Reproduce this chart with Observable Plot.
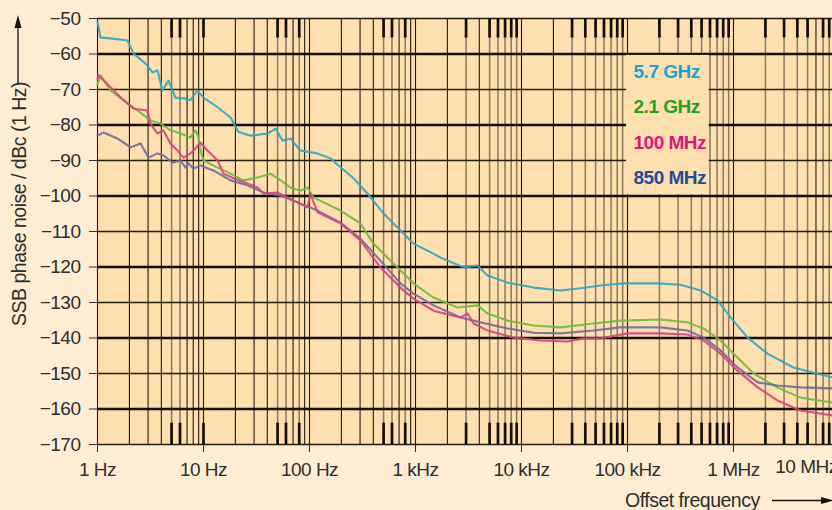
<!DOCTYPE html>
<html><head><meta charset="utf-8">
<script src="https://cdn.jsdelivr.net/npm/d3@7"></script>
<script src="https://cdn.jsdelivr.net/npm/@observablehq/plot@0.6"></script>
<style>
html,body{margin:0;padding:0;background:#feecd3;}
#chart svg{display:block;}
#chart svg text{letter-spacing:-0.5px;}
</style></head><body><div id="chart"></div>
<script>
// ---- axis ticks / labels ----
const decadeTicks = [1, 10, 100, 1e3, 1e4, 1e5, 1e6];
const decadeLabels = ["1 Hz", "10 Hz", "100 Hz", "1 kHz", "10 kHz", "100 kHz", "1 MHz"];
const extraTick = [1e7];
const extraLabel = ["10 MHz"];
const yTicks = [-50, -60, -70, -80, -90, -100, -110, -120, -130, -140, -150, -160, -170];
const thickLevels = [-60, -80, -100, -120, -140, -160];
const thinLevels = [-50, -70, -90, -110, -130, -150, -170];
const minorMultipliers = [1, 2, 3, 4, 5, 6, 7, 8, 9];
const stubFreqs = [5, 6, 10, 50, 60, 80, 500, 600, 800,
  3e3, 5e3, 6e3, 7e3, 8e3, 9e3,
  3e4, 4e4, 5e4, 6e4, 7e4, 8e4, 9e4,
  2e5, 3e5, 4e5, 5e5, 6e5, 7e5, 8e5, 9e5,
  2e6, 3e6, 4e6, 5e6, 7e6, 8e6];

// ---- series ----
const seriesNames = ["5.7 GHz", "2.1 GHz", "100 MHz", "850 MHz"];

const freq57 = [1, 1.07, 1.33, 1.92, 2.19, 2.84, 3.30, 3.68, 4.10, 4.67, 5.44, 6.48, 7.54, 8.77, 10, 13.6, 18.0, 21.4, 27.8, 40.2,
  47.8, 55.6, 66.2, 82.2, 119, 158, 188, 260, 352, 499, 721, 957, 1300, 1720, 2840, 3850, 4780, 7380, 13000, 23400,
  36100, 55600, 91600, 192000, 316000, 489000, 707000, 938000, 1.36e6, 2.09e6, 3.68e6, 8.59e6];
const db57 = [-51, -55.4, -55.6, -56.2, -59.9, -62.7, -65.2, -64.6, -70.3, -67.5, -72.3, -72.5, -73, -70.3, -72.3, -75, -77.9, -82, -83, -82.4,
  -81, -84.4, -83.8, -87.2, -88, -89.4, -91.4, -95, -99.3, -104.9, -109.7, -113.4, -115.4, -117.3, -120.1, -119.6, -122.4, -124.4, -125.8, -126.6,
  -126, -125.2, -124.6, -124.6, -125, -126.6, -129.4, -134.2, -139.9, -144.4, -148.3, -151.1];

const freq21 = [1, 1.07, 1.33, 1.76, 2.38, 3.16, 3.93, 4.88, 6.06, 7.54, 8.41, 8.97, 9.36, 10, 13.6, 18.0, 23.8, 32.4, 42.9, 53.4,
  66.2, 82.2, 95.8, 109, 196, 302, 400, 619, 957, 1480, 2490, 3850, 4780, 7380, 13000, 23400, 47800, 86000, 205000, 367000,
  522000, 754000, 1.09e6, 1.55e6, 2.59e6, 4.28e6, 8.59e6];
const db21 = [-68.5, -66, -70.3, -73, -75.9, -78.7, -79.6, -81.5, -82.4, -83.5, -81.5, -83.5, -87, -90, -92, -93.7, -95.6, -94.8, -93.7, -95.6,
  -97.6, -98.5, -97.6, -100.4, -104.1, -107.7, -113.4, -119, -124.6, -128.6, -131.4, -130.8, -133.1, -135.1, -136.5, -137, -135.9, -135.1, -134.8, -135.6,
  -137.3, -140.7, -145.5, -150, -153.9, -156.8, -158.2];

const freq100 = [1, 1.02, 1.33, 1.76, 2.19, 2.96, 3.16, 3.68, 4.19, 4.88, 5.68, 6.48, 7.54, 8.05, 9.36, 10.9, 13.6, 15.4, 19.2, 26.0,
  32.4, 36.8, 50.0, 62.0, 77.0, 95.8, 102, 119, 196, 302, 466, 721, 957, 1480, 2660, 3100, 3530, 4780, 8420, 15100,
  27200, 38500, 55600, 100000, 205000, 367000, 522000, 754000, 1.09e6, 1.69e6, 2.59e6, 4.28e6, 8.59e6];
const db100 = [-67, -66, -69.4, -73, -75.4, -75.9, -79.6, -82.4, -81.5, -85.2, -87.2, -89.2, -88, -87.2, -85, -87.2, -90, -93.7, -95, -96.5,
  -97.6, -99.3, -99, -100.4, -101.8, -103.2, -99.3, -104.6, -107.7, -112.5, -120.1, -125.8, -128.9, -132.3, -134.2, -133.1, -135.9, -137.9, -139.9, -140.7,
  -141, -140.1, -140.1, -138.7, -138.7, -139, -140.7, -144.4, -149.2, -153.9, -157.6, -160.4, -161.8];

const freq850 = [1, 1.14, 1.54, 2.05, 2.55, 3.03, 3.68, 4.19, 5.10, 6.06, 6.76, 7.22, 8.05, 9.36, 12.4, 18.0, 26.0, 36.8, 53.4, 77.0,
  119, 196, 302, 466, 721, 957, 1480, 2660, 4110, 7380, 13000, 23400, 47800, 86000, 205000, 367000, 522000, 754000, 1.09e6, 1.69e6,
  2.59e6, 4.28e6, 8.59e6];
const db850 = [-83, -82.1, -83.8, -86.3, -85.2, -89.2, -88, -88.6, -90.6, -90, -92, -90.8, -92.3, -91.4, -92.8, -95.6, -97, -99, -99.9, -101.8,
  -104.1, -107.5, -112, -118.2, -124.6, -127.5, -130.8, -134.2, -135.6, -137.3, -138.5, -138.7, -137.9, -137, -137, -137.9, -139.9, -143.5, -148.3, -152.5,
  -153.4, -153.9, -154.2];

// ---- styling ----
const FONT = "'Liberation Sans', Arial, sans-serif";
const PLOT_BG = "#fedfae";
const GRID = "#241a12";
const lineColors = ["#2ea6c6", "#6cbd3a", "#d6437f", "#6f6a9c"];
const legendColors = ["#1fa0d2", "#1ea41e", "#e0157e", "#1f4e9a"];

const toRows = (f, v, name) => f.map((x, i) => ({f: x, db: v[i], series: name}));
const rows = [
  toRows(freq57, db57, seriesNames[0]),
  toRows(freq21, db21, seriesNames[1]),
  toRows(freq850, db850, seriesNames[3]),
  toRows(freq100, db100, seriesNames[2])
];
const lineColorOf = {[seriesNames[0]]: lineColors[0], [seriesNames[1]]: lineColors[1], [seriesNames[2]]: lineColors[2], [seriesNames[3]]: lineColors[3]};

const xMax = 8.59e6;
const gridFreqs = decadeTicks.flatMap(d => minorMultipliers.map(m => m * d)).filter(f => f <= xMax);
const stubSet = new Set(stubFreqs);
const plainLines = gridFreqs.filter(f => !stubSet.has(f) || decadeTicks.includes(f));
const grayLines = gridFreqs.filter(f => stubSet.has(f) && !decadeTicks.includes(f));
const labelOf = new Map(decadeTicks.map((d, i) => [d, decadeLabels[i]]));
const legendRows = seriesNames.map((s, i) => ({name: s, level: -65 - 10 * i, color: legendColors[i]}));

const chart = Plot.plot({
  width: 832, height: 510,
  marginLeft: 97, marginRight: 0, marginTop: 18, marginBottom: 66,
  style: {background: "transparent", fontFamily: FONT, fontSize: "19px", color: "#2e2e2e", overflow: "visible"},
  x: {type: "log", domain: [1, xMax], ticks: decadeTicks, tickFormat: d => labelOf.get(d), tickSize: 8, tickPadding: 10, label: null},
  y: {domain: [-170, -50], ticks: yTicks, tickFormat: d => "\u2212" + Math.abs(d), tickSize: 8, tickPadding: 9, label: null},
  marks: [
    Plot.frame({fill: PLOT_BG}),
    Plot.ruleX(plainLines, {stroke: GRID, strokeWidth: 1.1}),
    Plot.ruleX(grayLines, {stroke: "#8a7860", strokeWidth: 1.5}),
    Plot.ruleY(thinLevels, {stroke: GRID, strokeWidth: 1.3}),
    Plot.ruleY(thickLevels, {stroke: "#140d08", strokeWidth: 2.6}),
    Plot.ruleX(stubFreqs, {y1: -170, y2: -164, stroke: "#140d08", strokeWidth: 2.7}),
    Plot.ruleX(stubFreqs, {y1: -55.5, y2: -50, stroke: "#140d08", strokeWidth: 2.7}),
    Plot.rect([0], {x1: 9.8e4, x2: 5.9e5, y1: -99.6, y2: -60.4, fill: PLOT_BG}),
    ...rows.map(r => Plot.line(r, {x: "f", y: "db", stroke: lineColorOf[r[0].series], strokeWidth: 2.1, strokeOpacity: 0.9, strokeLinejoin: "round"})),
    Plot.text(legendRows, {x: () => 1.14e5, y: "level", text: "name", fill: "color", textAnchor: "start", fontWeight: "bold", fontSize: 19}),
    Plot.text(extraTick.map((f, i) => ({f, label: extraLabel[i]})), {x: "f", text: "label", frameAnchor: "bottom", dy: 28, dx: -33, fill: "#2e2e2e"})
  ]
});
document.getElementById("chart").appendChild(chart);

// axis titles with arrows
const svg = d3.select(chart);
svg.append("text")
  .attr("transform", "translate(26,204) rotate(-90)")
  .attr("text-anchor", "middle")
  .attr("font-family", FONT).attr("font-size", 19.5).attr("fill", "#2e2e2e")
  .style("letter-spacing", "-0.5px")
  .text("SSB phase noise / dBc (1 Hz)");
svg.append("line").attr("x1", 18).attr("x2", 18).attr("y1", 84).attr("y2", 26).attr("stroke", "#111").attr("stroke-width", 1.3);
svg.append("path").attr("d", "M18,15 L14.5,28 L21.5,28 Z").attr("fill", "#111");
svg.append("text")
  .attr("x", 625).attr("y", 507)
  .attr("text-anchor", "start")
  .attr("font-family", FONT).attr("font-size", 19.5).attr("fill", "#2e2e2e")
  .style("letter-spacing", "-0.5px")
  .text("Offset frequency");
svg.append("line").attr("x1", 772).attr("x2", 822).attr("y1", 500.5).attr("y2", 500.5).attr("stroke", "#111").attr("stroke-width", 1.3);
svg.append("path").attr("d", "M834,500.5 L821,497 L821,504 Z").attr("fill", "#111");
</script>
</body></html>
